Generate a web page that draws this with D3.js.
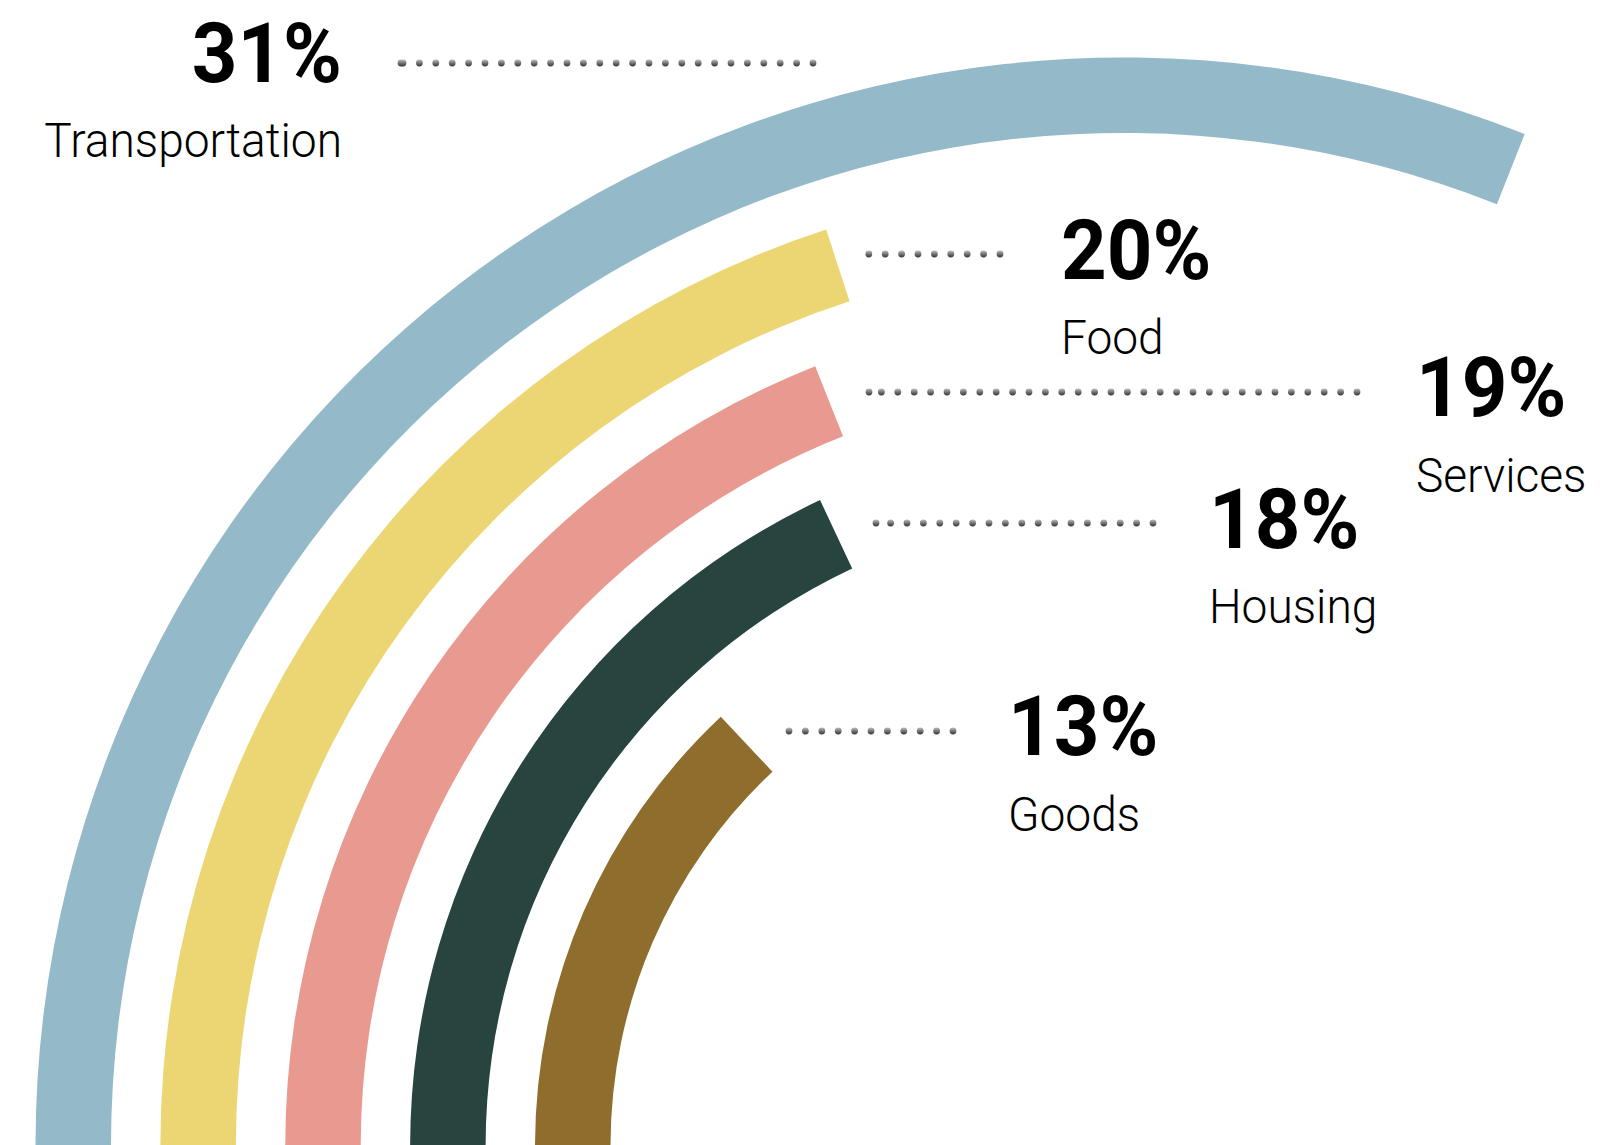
<!DOCTYPE html>
<html>
<head>
<meta charset="utf-8">
<script src="https://cdn.jsdelivr.net/npm/d3@7"></script>
<style>
  html, body { margin: 0; padding: 0; background: #fff; }
  svg { display: block; }
</style>
</head>
<body>
<svg id="chart" width="1600" height="1145"></svg>
<script>
// Share of spending by category, outermost ring first
const categories = ["Transportation", "Food", "Services", "Housing", "Goods"];
const shares = [31, 20, 19, 18, 13];
const shareLabels = ["31%", "20%", "19%", "18%", "13%"];

const palette = ["#94b9c8", "#ecd674", "#e99a90", "#27443e", "#8f6d2c"];

// Label placement: leader dots run from x0 to x1 at dotY; text sits at textX
const labelLayout = [
  { anchor: "end",   textX: 342,  pctY: 82,  nameY: 157, x0: 401, x1: 813,  dotY: 63 },
  { anchor: "start", textX: 1061, pctY: 279, nameY: 354, x0: 869, x1: 1000, dotY: 254 },
  { anchor: "start", textX: 1416, pctY: 416, nameY: 492, x0: 869, x1: 1357, dotY: 392 },
  { anchor: "start", textX: 1209, pctY: 548, nameY: 623, x0: 876, x1: 1153, dotY: 523 },
  { anchor: "start", textX: 1008, pctY: 755, nameY: 831, x0: 789, x1: 953,  dotY: 731 }
];

const cx = 1124, cy = 1146;

const svg = d3.select("#chart");

const defs = svg.append("defs");
const grad = defs.append("linearGradient")
  .attr("id", "dotShade")
  .attr("x1", 0).attr("y1", 0).attr("x2", 0).attr("y2", 1);
grad.append("stop").attr("offset", "0%").attr("stop-color", "#bdbdbd");
grad.append("stop").attr("offset", "55%").attr("stop-color", "#6e6e6e");
grad.append("stop").attr("offset", "100%").attr("stop-color", "#363636");

const data = categories.map((c, i) => ({ category: c, share: shares[i], label: shareLabels[i], i }));

// Concentric rings: band scale for radius, linear scale for sweep
const radius = d3.scaleBand()
  .domain(categories)
  .range([1088.5, 513.5])
  .paddingInner(0.3955)
  .paddingOuter(0);

const angle = d3.scaleLinear()
  .domain([0, 100])
  .range([-Math.PI / 2, 1.5 * Math.PI]);

const arc = d3.arc()
  .innerRadius(d => radius(d.category))
  .outerRadius(d => radius(d.category) + radius.bandwidth())
  .startAngle(angle(0))
  .endAngle(d => angle(d.share));

svg.append("g")
  .attr("transform", `translate(${cx},${cy})`)
  .selectAll("path")
  .data(data)
  .join("path")
  .attr("d", arc)
  .attr("fill", d => palette[d.i]);

// Leader dots
const spacing = 16.4;
const leaders = svg.append("g");
data.forEach(d => {
  const L = labelLayout[d.i];
  const xs = [];
  for (let x = L.x1; x >= L.x0 - 0.5; x -= spacing) xs.push(x);
  if (xs[xs.length - 1] - L.x0 > 2) xs.push(L.x0);
  leaders.append("g")
    .selectAll("circle")
    .data(xs)
    .join("circle")
    .attr("cx", x => x)
    .attr("cy", L.dotY)
    .attr("r", 3.4)
    .attr("fill", "url(#dotShade)");
});

// Percent and category labels
const labels = svg.append("g");
data.forEach(d => {
  const L = labelLayout[d.i];
  labels.append("g")
    .attr("transform", `translate(${L.textX},${L.pctY})`)
    .append("text")
    .attr("transform", "scale(0.96,1)")
    .attr("text-anchor", L.anchor)
    .attr("font-family", "Roboto, 'Noto Sans', sans-serif")
    .attr("font-weight", 700)
    .attr("font-size", 83)
    .attr("fill", "#000")
    .text(d.label);
  labels.append("g")
    .attr("transform", `translate(${L.textX},${L.nameY})`)
    .append("text")
    .attr("transform", "scale(0.96,1)")
    .attr("text-anchor", L.anchor)
    .attr("font-family", "Roboto, 'Noto Sans', sans-serif")
    .attr("font-weight", 300)
    .attr("font-size", 48)
    .attr("fill", "#000")
    .text(d.category);
});
</script>
</body>
</html>
